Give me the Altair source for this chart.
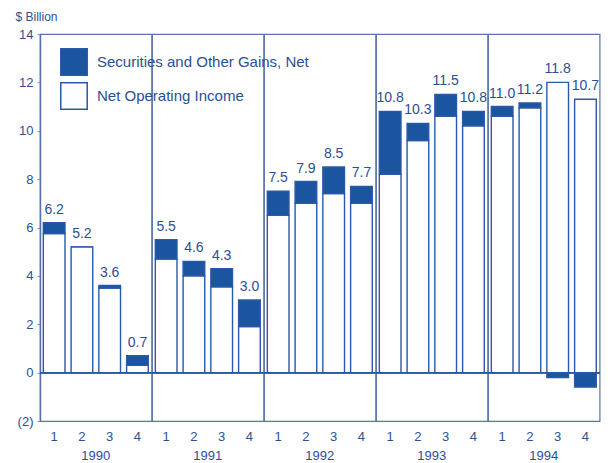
import altair as alt
import pandas as pd

years = ["1990"] * 4 + ["1991"] * 4 + ["1992"] * 4 + ["1993"] * 4 + ["1994"] * 4
quarters = ["1", "2", "3", "4"] * 5
op_income = [5.75, 5.2, 3.5, 0.3, 4.7, 4.0, 3.55, 1.9, 6.5, 7.0, 7.4, 7.0,
             8.2, 9.6, 10.6, 10.2, 10.6, 10.95, 12.0, 11.3]
securities = [0.45, 0.0, 0.1, 0.4, 0.8, 0.6, 0.75, 1.1, 1.0, 0.9, 1.1, 0.7,
              2.6, 0.7, 0.9, 0.6, 0.4, 0.2, -0.2, -0.6]
total_labels = ["6.2", "5.2", "3.6", "0.7", "5.5", "4.6", "4.3", "3.0",
                "7.5", "7.9", "8.5", "7.7", "10.8", "10.3", "11.5", "10.8",
                "11.0", "11.2", "11.8", "10.7"]

SEC = "Securities and Other Gains, Net"
OP = "Net Operating Income"

DARK = "#1b55a0"
LINE = "#2a5aa6"
FRAME = "#5a74a8"
TXT = "#2b4f96"
FONT = "Liberation Sans"

rows = []
for y, q, o, s, t in zip(years, quarters, op_income, securities, total_labels):
    top = o + max(s, 0)
    rows.append(dict(year=y, quarter=q, series=OP, value=o, ord=0, top=top, label=t))
    rows.append(dict(year=y, quarter=q, series=SEC, value=s, ord=1, top=top, label=t))
df = pd.DataFrame(rows)

base = alt.Chart()

bars = base.mark_bar(stroke=LINE, strokeWidth=1.4).encode(
    x=alt.X("quarter:N", title=None,
            scale=alt.Scale(paddingInner=0.22, paddingOuter=0.12),
            axis=alt.Axis(labelAngle=0, domain=False, ticks=False,
                          labelFontSize=13, labelColor=TXT, labelFont=FONT,
                          labelPadding=9)),
    y=alt.Y("value:Q", stack="zero",
            scale=alt.Scale(domain=[-2, 14], nice=False),
            axis=alt.Axis(values=list(range(-2, 16, 2)), grid=False,
                          domainColor=LINE, domainWidth=1.4,
                          tickColor="#8a9bbf", tickSize=3,
                          labelFontSize=13, labelColor=TXT, labelFont=FONT,
                          labelPadding=4,
                          labelExpr="datum.value < 0 ? '(' + format(-datum.value, 'd') + ')' : format(datum.value, 'd')",
                          title="$ Billion", titleAngle=0, titleAlign="left",
                          titleBaseline="bottom", titleX=-25, titleY=-11,
                          titleFontSize=12, titleFontWeight="normal",
                          titleColor=TXT, titleFont=FONT)),
    fill=alt.Fill("series:N",
                  scale=alt.Scale(domain=[SEC, OP], range=[DARK, "white"]),
                  legend=alt.Legend(title=None, orient="none", legendX=20, legendY=14,
                                    symbolType="square", symbolSize=700,
                                    symbolStrokeColor=LINE, symbolStrokeWidth=1.5,
                                    labelFontSize=15, labelColor=TXT, labelFont=FONT,
                                    labelLimit=400,
                                    labelOffset=9, rowPadding=0, padding=0)),
    order=alt.Order("ord:Q"),
)

zero = base.mark_rule(color=LINE, strokeWidth=1.4).encode(y=alt.datum(0))

labels = base.mark_text(dy=-6, fontSize=14, color=TXT, font=FONT, baseline="bottom").encode(
    x=alt.X("quarter:N"),
    y=alt.Y("top:Q"),
    text=alt.Text("label:N"),
).transform_filter(alt.datum.series == OP)

chart = alt.layer(bars, zero, labels, data=df).properties(
    width=111.6, height=387
).facet(
    column=alt.Column("year:N", title=None,
                      header=alt.Header(labelOrient="bottom", titleOrient="bottom",
                                        labelFontSize=13,
                                        labelColor=TXT, labelFont=FONT,
                                        labelPadding=7)),
    spacing=0,
    bounds="flush",
).properties(
    padding={"left": 7, "top": 2, "right": 1, "bottom": 0}
).configure_view(stroke=FRAME, strokeWidth=1.2)

chart.save("out.html", embed_options={"renderer": "svg", "actions": False})
